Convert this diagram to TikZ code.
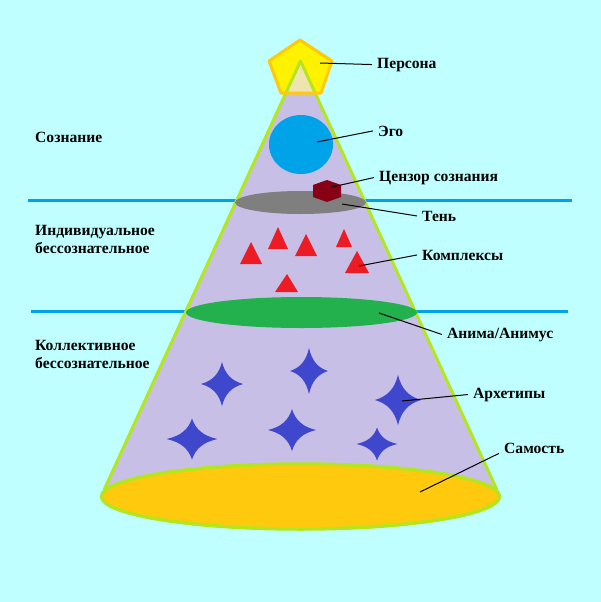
\documentclass[tikz,border=0pt]{standalone}
\usepackage{fontspec}
\setmainfont{Liberation Serif}
\definecolor{bgc}{HTML}{C0FFFF}
\definecolor{linec}{HTML}{00A2E8}
\definecolor{conec}{HTML}{C8BFE7}
\definecolor{limec}{HTML}{B5E61D}
\definecolor{goldc}{HTML}{FFC90E}
\definecolor{yellc}{HTML}{FFF200}
\definecolor{beigec}{HTML}{EFE4B0}
\definecolor{egoc}{HTML}{00A2E8}
\definecolor{censc}{HTML}{880015}
\definecolor{grayc}{HTML}{7F7F7F}
\definecolor{greenc}{HTML}{22B14C}
\definecolor{redc}{HTML}{ED1C24}
\definecolor{starc}{HTML}{3F48CC}
\newcommand{\fourstar}[4]{%
  \fill[starc] ({#1},{#2-#4})
    .. controls ({#1+0.15*#3},{#2-0.45*#4}) and ({#1+0.45*#3},{#2-0.15*#4}) .. ({#1+#3},{#2})
    .. controls ({#1+0.45*#3},{#2+0.15*#4}) and ({#1+0.15*#3},{#2+0.45*#4}) .. ({#1},{#2+#4})
    .. controls ({#1-0.15*#3},{#2+0.45*#4}) and ({#1-0.45*#3},{#2+0.15*#4}) .. ({#1-#3},{#2})
    .. controls ({#1-0.45*#3},{#2-0.15*#4}) and ({#1-0.15*#3},{#2-0.45*#4}) .. ({#1},{#2-#4}) -- cycle;}
\tikzset{
  lbl/.style={anchor=base west, inner xsep=5pt, inner ysep=0pt, font=\bfseries\fontsize{15.6}{18}\selectfont, text=black},
  lead/.style={draw=black, line width=1pt},
  sep/.style={draw=linec, line width=3pt},
}
\begin{document}
\begin{tikzpicture}[x=1pt,y=-1pt]
\useasboundingbox (0,0) rectangle (601,602);
\fill[bgc] (0,0) rectangle (601,602);
% separator lines
\draw[sep] (28,200) -- (572,200);
\draw[sep] (31,311.5) -- (568,311.5);
% cone
\coordinate (apex) at (300.5,61);
\coordinate (bl) at (104,490);
\coordinate (br) at (497,490);
\fill[conec] (apex) -- (bl) -- (br) -- cycle;
\draw[limec, line width=3pt, line join=round] (bl) -- (apex) -- (br);
% base ellipse
\filldraw[fill=goldc, draw=limec, line width=3.5pt] (300.5,496.5) ellipse [x radius=199, y radius=32.5];
% persona pentagon
\fill[yellc] (300,40) -- (332,61) -- (321,93) -- (281,93) -- (269,61) -- cycle;
\fill[beigec] (apex) -- (314.7,92) -- (286.3,92) -- cycle;
\draw[limec, line width=3pt, line join=round] (286.3,92) -- (apex) -- (314.7,92);
\draw[goldc, line width=3pt, line join=round] (300,40) -- (332,61) -- (321,93) -- (281,93) -- (269,61) -- cycle;
% ego
\fill[egoc] (301,144.5) ellipse [x radius=32, y radius=29.5];
% shadow
\fill[grayc] (300.5,202.5) ellipse [x radius=65.5, y radius=11.5];
% censor
\fill[censc] (327,180) -- (341,185) -- (341,197) -- (327,202) -- (313,197) -- (313,185) -- cycle;
% complexes
\fill[redc] (251,242) -- (262,264) -- (240,264) -- cycle;
\fill[redc] (278,227) -- (288,249) -- (268,249) -- cycle;
\fill[redc] (306,234) -- (317,256) -- (295,256) -- cycle;
\fill[redc] (344,229) -- (352,247) -- (336,247) -- cycle;
\fill[redc] (357,251) -- (369,273) -- (345,273) -- cycle;
\fill[redc] (287,274) -- (298,292) -- (275,292) -- cycle;
% anima
\fill[greenc] (301.5,312.5) ellipse [x radius=115.5, y radius=15.5];
% archetypes
\fourstar{222}{384}{21}{22}
\fourstar{309}{371}{19}{23}
\fourstar{398}{400}{23}{25}
\fourstar{192}{439}{25.5}{20.5}
\fourstar{292}{430}{24}{21}
\fourstar{377}{444}{20.5}{16.5}
% leader start points
\coordinate (pPers) at (320,63);
\coordinate (pEgo) at (317,142);
\coordinate (pCens) at (332,187);
\coordinate (pShad) at (342,204);
\coordinate (pComp) at (359,266);
\coordinate (pAnim) at (379,313);
\coordinate (pArch) at (402,401);
\coordinate (pSelf) at (420,492);
% labels
\node[lbl] (lPers) at (372,68) {Персона};
\node[lbl] (lEgo) at (373,136) {Эго};
\node[lbl] (lCens) at (374,181) {Цензор сознания};
\node[lbl] (lShad) at (417,221) {Тень};
\node[lbl] (lComp) at (417,260) {Комплексы};
\node[lbl] (lAnim) at (442,338) {Анима/Анимус};
\node[lbl] (lArch) at (468,398) {Архетипы};
\node[lbl] (lSelf) at (499,453) {Самость};
\node[lbl] (lCons) at (30,142) {Сознание};
\node[lbl] (lInd1) at (30,235) {Индивидуальное};
\node[lbl] (lInd2) at (30,253) {бессознательное};
\node[lbl] (lCol1) at (30,350) {Коллективное};
\node[lbl] (lCol2) at (30,368) {бессознательное};
% leaders
\draw[lead] (pPers) -- (lPers.west);
\draw[lead] (pEgo) -- (lEgo.west);
\draw[lead] (pCens) -- (lCens.west);
\draw[lead] (pShad) -- (lShad.west);
\draw[lead] (pComp) -- (lComp.west);
\draw[lead] (pAnim) -- (lAnim.west);
\draw[lead] (pArch) -- (lArch.west);
\draw[lead] (pSelf) -- (lSelf.south west);
\end{tikzpicture}
\end{document}
